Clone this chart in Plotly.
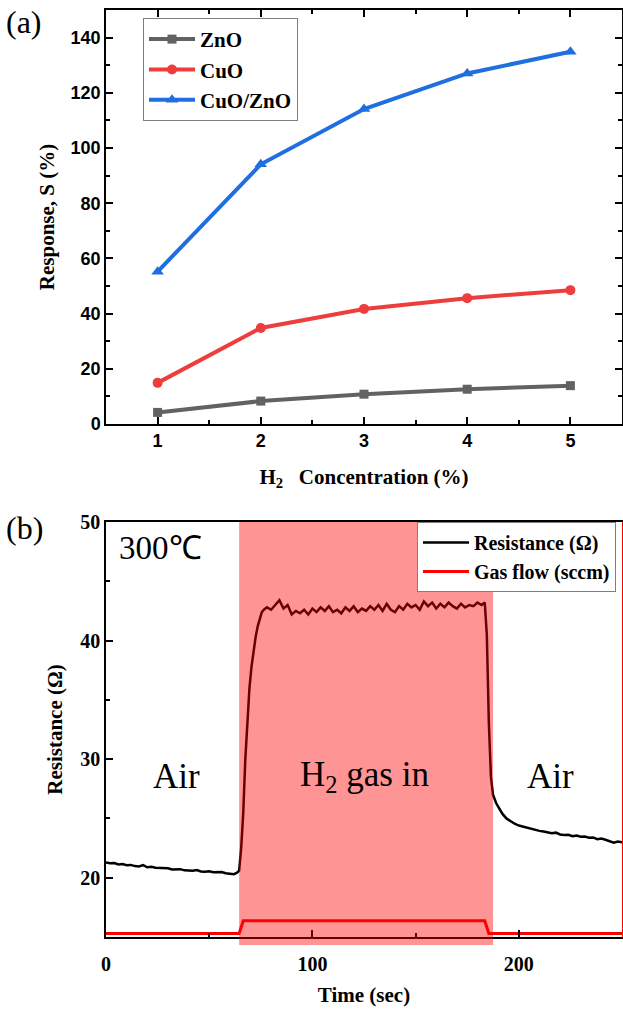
import plotly.graph_objects as go

# ---------------- Panel (a) data ----------------
conc = [1, 2, 3, 4, 5]
zno = [4.2, 8.3, 10.8, 12.6, 13.9]
cuo = [14.9, 34.8, 41.7, 45.6, 48.5]
cuo_zno = [55.2, 94.1, 114.1, 127.0, 134.9]
x_ticks_a = [1, 2, 3, 4, 5]
y_ticks_a = [0, 20, 40, 60, 80, 100, 120, 140]

# ---------------- Panel (b) data ----------------
t_res = [0, 2, 4, 6, 8, 10, 12, 14, 16, 18, 20, 22, 24, 26, 28, 30, 32, 34, 36, 38,
         40, 42, 44, 46, 48, 50, 52, 54, 56, 58, 60, 62, 63.5,
         64.5, 65.5, 66.5, 67.5, 68.5, 69.5, 70.5, 71.5, 72.5, 73.5, 74.5, 75.5, 76.5,
         78, 80, 82, 84, 86, 88, 90, 92, 94, 96, 98, 100, 102, 104, 106, 108, 110, 112,
         114, 116, 118, 120, 122, 124, 126, 128, 130, 132, 134, 136, 138, 140, 142, 144,
         146, 148, 150, 152, 154, 156, 158, 160, 162, 164, 166, 168, 170, 172, 174, 176,
         178, 180, 182, 183.5,
         184.5, 185.5, 186.5, 187.5, 189, 190.5, 192, 194, 196, 198, 200, 202, 204, 206,
         208, 210, 212, 214, 216, 218, 220, 222, 224, 226, 228, 230, 232, 234, 236, 238,
         240, 242, 244, 246, 248, 250]
r_res = [21.28, 21.22, 21.24, 21.12, 21.15, 21.05, 21.08, 20.98, 20.95, 21.06, 20.88,
         20.92, 20.84, 20.82, 20.78, 20.80, 20.70, 20.68, 20.72, 20.62, 20.60, 20.58,
         20.64, 20.52, 20.50, 20.55, 20.46, 20.44, 20.48, 20.38, 20.36, 20.30, 20.42,
         20.6, 22.5, 25.5, 30.0, 33.5, 36.0, 37.8, 39.2, 40.3, 41.2, 41.9, 42.4, 42.6,
         42.8, 42.6, 43.0, 43.4, 42.7, 43.0, 42.2, 42.5, 42.3, 42.6, 42.2, 42.7, 42.4,
         42.8, 42.5, 42.9, 42.4, 42.6, 42.3, 42.8, 42.5, 42.9, 42.4, 42.7, 42.5, 42.9,
         42.6, 43.0, 42.5, 43.1, 42.6, 42.4, 42.9, 42.6, 43.1, 42.8, 43.0, 42.6, 43.3,
         42.9, 43.2, 42.7, 43.1, 42.8, 43.2, 42.9, 42.7, 43.1, 42.8, 43.0, 42.9, 43.2,
         43.0, 43.2,
         40.5, 33.0, 28.5, 27.0, 26.3, 25.8, 25.4, 25.0, 24.75, 24.55, 24.4, 24.3, 24.2,
         24.1, 24.05, 23.95, 23.9, 23.85, 23.75, 23.8, 23.65, 23.6, 23.62, 23.5, 23.55,
         23.45, 23.48, 23.38, 23.4, 23.25, 23.3, 23.2, 23.1, 22.95, 23.05, 23.0]
t_gas = [0, 64.5, 66.5, 183.5, 185.5, 250]
gas_flow = [0, 0, 100, 100, 0, 0]
gas_on = [64.5, 187.5]
x_ticks_b = [0, 100, 200]
y_ticks_b = [20, 30, 40, 50]

SERIF = "Liberation Serif"
SANS = "Liberation Sans"

fig = go.Figure()

# ---- panel (a) traces
fig.add_trace(go.Scatter(x=conc, y=zno, name="ZnO", mode="lines+markers",
                         line=dict(color="#626262", width=4),
                         marker=dict(symbol="square", size=9, color="#626262"),
                         xaxis="x", yaxis="y", legend="legend"))
fig.add_trace(go.Scatter(x=conc, y=cuo, name="CuO", mode="lines+markers",
                         line=dict(color="#ee3d3d", width=4),
                         marker=dict(symbol="circle", size=10, color="#ee3d3d"),
                         xaxis="x", yaxis="y", legend="legend"))
fig.add_trace(go.Scatter(x=conc, y=cuo_zno, name="CuO/ZnO", mode="lines+markers",
                         line=dict(color="#1f6fe0", width=4),
                         marker=dict(symbol="triangle-up", size=11, color="#1f6fe0"),
                         xaxis="x", yaxis="y", legend="legend"))

# ---- panel (b) traces
fig.add_trace(go.Scatter(x=t_res, y=r_res, name="Resistance (Ω)", mode="lines",
                         line=dict(color="black", width=2.5),
                         xaxis="x2", yaxis="y2", legend="legend2"))
fig.add_trace(go.Scatter(x=t_gas, y=gas_flow, name="Gas flow (sccm)", mode="lines",
                         line=dict(color="#ff0000", width=3),
                         xaxis="x2", yaxis="y3", legend="legend2"))

dom_a = [0.5534, 1.0]
dom_b = [0.0, 0.4477]

axis_common = dict(showline=True, linecolor="black", linewidth=1.5,
                   ticks="inside", ticklen=7, tickwidth=1.5, tickcolor="black",
                   showgrid=False, zeroline=False, automargin=False)

fig.update_layout(
    width=623, height=1009,
    margin=dict(l=106, r=1, t=10, b=72, autoexpand=False),
    paper_bgcolor="white", plot_bgcolor="white",
    xaxis=dict(domain=[0, 1], anchor="y", range=[0.5, 5.5], tickvals=x_ticks_a,
               mirror="ticks",
               minor=dict(ticks="inside", dtick=0.5, ticklen=4, tickwidth=1.5, tickcolor="black"),
               tickfont=dict(family=SANS, size=18, weight="bold", color="black"),
               title=dict(text="H<sub>2</sub>\u00a0\u00a0\u00a0Concentration (%)",
                          font=dict(family=SERIF, size=21, weight="bold", color="black"),
                          standoff=19),
               **axis_common),
    yaxis=dict(domain=dom_a, anchor="x", range=[0, 150], tickvals=y_ticks_a,
               mirror="ticks",
               minor=dict(ticks="inside", dtick=10, ticklen=4, tickwidth=1.5, tickcolor="black"),
               tickfont=dict(family=SANS, size=18, weight="bold", color="black"),
               title=dict(text="Response, S (%)",
                          font=dict(family=SERIF, size=21, weight="bold", color="black"),
                          standoff=10),
               **axis_common),
    xaxis2=dict(domain=[0, 1], anchor="y2", range=[0, 250], tickvals=x_ticks_b,
                mirror=True, ticklabelstandoff=8,
                minor=dict(ticks="inside", dtick=50, ticklen=4, tickwidth=1.5, tickcolor="black"),
                tickfont=dict(family=SERIF, size=20, weight="bold", color="black"),
                title=dict(text="Time (sec)",
                           font=dict(family=SERIF, size=21, weight="bold", color="black"),
                           standoff=14),
                **axis_common),
    yaxis2=dict(domain=dom_b, anchor="x2", range=[15, 50], tickvals=y_ticks_b,
                minor=dict(ticks="inside", dtick=5, ticklen=4, tickwidth=1.5, tickcolor="black"),
                tickfont=dict(family=SERIF, size=20, weight="bold", color="black"),
                title=dict(text="Resistance (Ω)",
                           font=dict(family=SERIF, size=21, weight="bold", color="black"),
                           standoff=12),
                **axis_common),
    yaxis3=dict(domain=dom_b, anchor="x2", overlaying="y2", side="right",
                range=[-27, 3210], showticklabels=False, ticks="",
                showline=True, linecolor="#ff0000", linewidth=1.5,
                showgrid=False, zeroline=False, automargin=False),
    legend=dict(x=0.0717, y=0.9914, xanchor="left", yanchor="top",
                bgcolor="white", bordercolor="#7f7f7f", borderwidth=1,
                itemwidth=46,
                font=dict(family=SERIF, size=21, weight="bold", color="black"),
                tracegroupgap=0),
    legend2=dict(x=0.6027, y=0.4477, xanchor="left", yanchor="top",
                 bgcolor="white", bordercolor="#7f7f7f", borderwidth=1,
                 itemwidth=46,
                 font=dict(family=SERIF, size=20, weight="bold", color="black")),
    showlegend=True,
)

# shaded "gas in" band, drawn above traces (translucent)
fig.add_shape(type="rect", xref="x2", yref="paper",
              x0=gas_on[0], x1=gas_on[1], y0=-0.0086, y1=0.4477,
              fillcolor="rgba(255,0,0,0.42)", line=dict(width=0), layer="above")

ann_font = dict(family=SERIF, size=35, color="black")
fig.add_annotation(x=34, y=28.5, xref="x2", yref="y2", text="Air",
                   showarrow=False, font=ann_font)
fig.add_annotation(x=125, y=28.5, xref="x2", yref="y2", text="H<sub>2</sub> gas in",
                   showarrow=False, font=ann_font)
fig.add_annotation(x=215.5, y=28.5, xref="x2", yref="y2", text="Air",
                   showarrow=False, font=ann_font)
fig.add_annotation(x=5.5, y=47.8, xref="x2", yref="y2", text="300℃", xanchor="left",
                   showarrow=False, font=dict(family=SERIF, size=33, color="black"))

# panel labels
fig.add_annotation(x=-0.197, y=0.987, xref="paper", yref="paper", text="(a)",
                   xanchor="left", yanchor="middle", showarrow=False,
                   font=dict(family=SERIF, size=32, color="black"))
fig.add_annotation(x=-0.197, y=0.441, xref="paper", yref="paper", text="(b)",
                   xanchor="left", yanchor="middle", showarrow=False,
                   font=dict(family=SERIF, size=32, color="black"))

fig.write_html("out.html", config={"displayModeBar": False},
               post_script="document.body.style.margin='0';")
